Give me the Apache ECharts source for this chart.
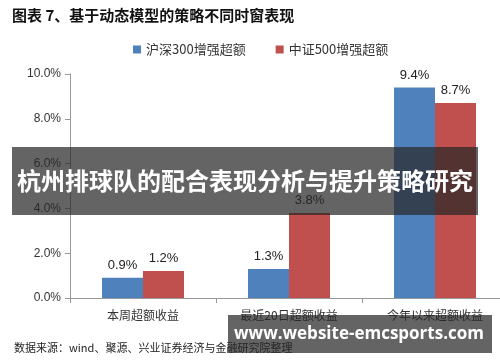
<!DOCTYPE html>
<html><head><meta charset="utf-8">
<script src="https://cdn.jsdelivr.net/npm/echarts@6/dist/echarts.min.js"></script>
<style>html,body{margin:0;padding:0;background:#fff}#c{width:500px;height:362px}</style>
</head><body><div id="c"></div>
<script>
var categories = ['本周超额收益', '最近20日超额收益', '今年以来超额收益'];
var seriesNames = ['沪深300增强超额', '中证500增强超额'];
var hs300 = [0.9, 1.3, 9.4];
var zz500 = [1.2, 3.8, 8.7];
var yTicks = [0, 2, 4, 6, 8, 10];

var chart = echarts.init(document.getElementById('c'));
var lbl = {show: true, position: 'top', distance: 6, color: '#222', fontSize: 13,
  fontFamily: 'Liberation Sans, Arial', formatter: function(p){return p.value.toFixed(1)+'%';}};
chart.setOption({
  animation: false,
  title: {text: '图表 7、基于动态模型的策略不同时窗表现', left: 7, top: 3,
    textStyle: {fontSize: 15, fontWeight: 'bold', color: '#111', fontFamily: 'Noto Sans CJK SC'}},
  legend: {top: 38, left: 128, itemWidth: 8, itemHeight: 8, itemGap: 30,
    icon: 'rect', textStyle: {fontSize: 13, color: '#333', fontFamily: 'Noto Sans CJK SC'},
    data: seriesNames},
  grid: {left: 70, top: 74, width: 438, height: 224, containLabel: false, outerBoundsMode: 'none'},
  xAxis: {type: 'category', data: categories,
    axisLine: {lineStyle: {color: '#999'}}, axisTick: {show: true, length: 5, lineStyle: {color: '#999'}},
    axisLabel: {margin: 11, fontSize: 12, color: '#333', fontFamily: 'Noto Sans CJK SC'}},
  yAxis: {type: 'value', min: yTicks[0], max: yTicks[yTicks.length-1], interval: 2,
    axisLine: {show: true, lineStyle: {color: '#999'}}, axisTick: {show: true, length: 5, lineStyle: {color: '#999'}},
    splitLine: {show: false},
    axisLabel: {margin: 9, fontSize: 12, color: '#333', fontFamily: 'Liberation Sans, Arial',
      formatter: function(v){return v.toFixed(1)+'%';}}},
  series: [
    {name: seriesNames[0], type: 'bar', data: hs300, barWidth: 41, barGap: '0%',
      itemStyle: {color: '#4F81BD'}, label: lbl},
    {name: seriesNames[1], type: 'bar', data: zz500, barWidth: 41,
      itemStyle: {color: '#C0504D'}, label: lbl}
  ],
  graphic: [
    {type: 'text', left: 14, top: 342, style: {text: '数据来源：wind、聚源、兴业证券经济与金融研究院整理',
      fontSize: 11, fill: '#222', fontFamily: 'Noto Sans CJK SC'}},
    {type: 'rect', shape: {x: 12, y: 147, width: 466, height: 68}, style: {fill: 'rgba(40,40,40,0.72)'}, z: 100},
    {type: 'text', x: 245, y: 181, style: {text: '杭州排球队的配合表现分析与提升策略研究', fill: '#fff',
      fontSize: 24, fontWeight: 'bold', fontFamily: 'Noto Sans CJK SC', align: 'center', verticalAlign: 'middle'}, z: 101},
    {type: 'rect', shape: {x: 228, y: 315, width: 264, height: 38}, style: {fill: 'rgba(40,40,40,0.72)'}, z: 100},
    {type: 'text', x: 359, y: 334, style: {text: 'www.website-emcsports.com', fill: '#fff',
      fontSize: 17, fontWeight: 'bold', fontFamily: 'Open Sans, DejaVu Sans', align: 'center', verticalAlign: 'middle'}, z: 101}
  ]
});
</script></body></html>
